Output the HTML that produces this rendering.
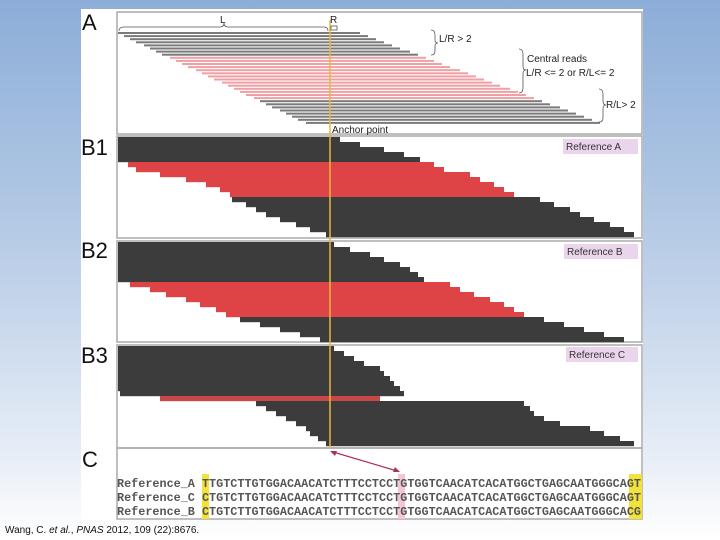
<!DOCTYPE html>
<html><head><meta charset="utf-8"><style>
html,body{margin:0;padding:0;width:720px;height:540px;overflow:hidden;background:linear-gradient(180deg,#8cadd8 0%,#b7cce6 45%,#e8eef7 85%,#fff 100%);font-family:"Liberation Sans",sans-serif}
svg{position:absolute;left:0;top:0}
</style></head><body>
<svg id="fig" width="720" height="540" xmlns="http://www.w3.org/2000/svg">
<rect x="81" y="9" width="562" height="511" fill="#fff"/>
<g id="panels" fill="none" stroke="#aaa" stroke-width="1.5">
<rect x="117" y="12" width="525" height="122"/>
<rect x="117" y="136" width="525" height="102"/>
<rect x="117" y="241" width="525" height="101"/>
<rect x="117" y="345" width="525" height="103"/>
<rect x="117" y="448" width="525" height="71"/>
</g>
<g font-size="22" fill="#111">
<text x="82" y="30">A</text>
<text x="81" y="155">B1</text>
<text x="81" y="258">B2</text>
<text x="81" y="363">B3</text>
<text x="82" y="467">C</text>
</g>
<g id="reads"></g>
<line x1="330" y1="20" x2="330" y2="448" stroke="#e8b838" stroke-width="1.5"/>
<g font-size="10" fill="#222">
<path d="M119 31 Q119 27 124 27 L220 27 Q224 27 224 23 Q224 27 228 27 L324 27 Q328 27 328 31" fill="none" stroke="#555" stroke-width="0.8"/>
<rect x="331" y="26" width="6" height="4" fill="none" stroke="#555" stroke-width="0.8"/>
<text x="220" y="23">L</text>
<text x="330" y="23">R</text>
<path d="M431 30 Q435 30 435 35 L435 40 Q435 43 438 43 Q435 43 435 46 L435 51 Q435 55 431 55" fill="none" stroke="#555" stroke-width="0.8"/>
<text x="439" y="42">L/R &gt; 2</text>
<path d="M519 49 Q523 49 523 54 L523 66 Q523 70 526 70 Q523 70 523 74 L523 88 Q523 93 519 93" fill="none" stroke="#555" stroke-width="0.8"/>
<text x="527" y="62">Central reads</text>
<text x="526" y="76">L/R &lt;= 2 or R/L&lt;= 2</text>
<path d="M599 89 Q603 89 603 94 L603 101 Q603 105 606 105 Q603 105 603 109 L603 118 Q603 122 599 122" fill="none" stroke="#555" stroke-width="0.8"/>
<text x="606" y="108">R/L&gt; 2</text>
<text x="332" y="133">Anchor point</text>
</g>
<g font-size="10" fill="#333">
<rect x="563" y="139" width="75" height="15" fill="#ebd5ec"/>
<text x="566" y="150">Reference A</text>
<rect x="564" y="244" width="74" height="15" fill="#ebd5ec"/>
<text x="567" y="255">Reference B</text>
<rect x="566" y="347" width="72" height="15" fill="#ebd5ec"/>
<text x="569" y="358">Reference C</text>
</g>
<g stroke="#b03050" stroke-width="1.2" fill="#b03050">
<line x1="333" y1="452" x2="397" y2="471"/>
<path d="M330 451 L337 451 L335 456 Z" stroke="none"/>
<path d="M400 472 L393 472 L395 467 Z" stroke="none"/>
</g>
<rect x="202" y="474" width="7" height="45" fill="#f3e23a"/>
<rect x="398" y="474" width="7" height="45" fill="#f6c6d2"/>
<rect x="629" y="474" width="13" height="45" fill="#f3e23a"/>
<g font-family="'Liberation Mono',monospace" font-size="11.5" fill="#555" font-weight="bold">
<text x="117" y="487" textLength="524" lengthAdjust="spacingAndGlyphs">Reference_A TTGTCTTGTGGACAACATCTTTCCTCCTGTGGTCAACATCACATGGCTGAGCAATGGGCAGT</text>
<text x="117" y="501" textLength="524" lengthAdjust="spacingAndGlyphs">Reference_C CTGTCTTGTGGACAACATCTTTCCTCCTGTGGTCAACATCACATGGCTGAGCAATGGGCAGT</text>
<text x="117" y="515" textLength="524" lengthAdjust="spacingAndGlyphs">Reference_B CTGTCTTGTGGACAACATCTTTCCTCCTGTGGTCAACATCACATGGCTGAGCAATGGGCACG</text>
</g>
<text x="5" y="533" font-size="10" fill="#111">Wang, C. <tspan font-style="italic">et al.</tspan>, <tspan font-style="italic">PNAS</tspan> 2012, 109 (22):8676.</text>
</svg>
<script>
// read positions are in bp relative to anchor (0); g=gray read, r=red (central) read
const aStarts=[-106,-103,-100,-97,-93,-90,-87,-84,-80,-77,-74,-71,-67,-64,-61,-58,-54,-51,-48,-45,-42,-38,-35,-32,-29,-25,-22,-19,-16,-12];
const aEnds=[15,19,23,27,31,35,40,44,48,52,56,60,65,69,73,77,81,85,90,94,98,102,106,110,115,119,123,127,131,135];
const aTypes=['g','g','g','g','g','g','g','g','r','r','r','r','r','r','r','r','r','r','r','r','r','r','g','g','g','g','g','g','g','g'];
const b1Starts=[-106,-106,-106,-106,-106,-101,-97,-85,-72,-62,-55,-50,-49,-42,-37,-32,-25,-17,-10,-2];
const b1Ends=[5,15,27,37,45,52,57,70,75,82,87,92,105,112,120,125,132,140,147,152];
const b1Types=['g','g','g','g','g','r','r','r','r','r','r','r','g','g','g','g','g','g','g','g'];
const b2Starts=[-106,-106,-106,-106,-106,-106,-106,-106,-100,-90,-82,-72,-65,-57,-52,-45,-35,-25,-15,-5];
const b2Ends=[2,10,20,27,35,40,44,47,60,65,72,80,87,92,97,107,117,127,137,147];
const b2Types=['g','g','g','g','g','g','g','g','r','r','r','r','r','r','r','g','g','g','g','g'];
const b3Starts=[-106,-106,-106,-106,-106,-106,-106,-106,-106,-105,-85,-37,-32,-27,-22,-17,-12,-10,-6,-2];
const b3Ends=[2,7,12,17,25,27,30,32,35,37,25,97,100,102,107,115,130,137,145,152];
const b3Types=['g','g','g','g','g','g','g','g','g','g','r','g','g','g','g','g','g','g','g','g'];
const X0=330, K=2.0;
function xs(v){return X0+v*K;}
const NS='http://www.w3.org/2000/svg';
const G=document.getElementById('reads');
function drawPanel(starts,ends,types,top,rowH,barH,name,colG,colR){
  for(let i=0;i<starts.length;i++){
    const r=document.createElementNS(NS,'rect');
    const x1=xs(starts[i]), x2=xs(ends[i]);
    r.setAttribute('x',x1);r.setAttribute('y',top+i*rowH);
    r.setAttribute('width',Math.max(0,x2-x1));r.setAttribute('height',barH);
    r.setAttribute('fill',types[i]==='r'?colR:colG);
    
    
    G.appendChild(r);
  }
}
drawPanel(aStarts,aEnds,aTypes,32,3.1,2,'panel-a','#7a7a7a','#f0a0a4');
drawPanel(b1Starts,b1Ends,b1Types,137,5,5.2,'panel-b1','#3c3c3c','#de4446');
drawPanel(b2Starts,b2Ends,b2Types,242,5,5.2,'panel-b2','#3c3c3c','#de4446');
drawPanel(b3Starts,b3Ends,b3Types,346,5,5.2,'panel-b3','#3c3c3c','#c84848');
</script>
</body></html>
